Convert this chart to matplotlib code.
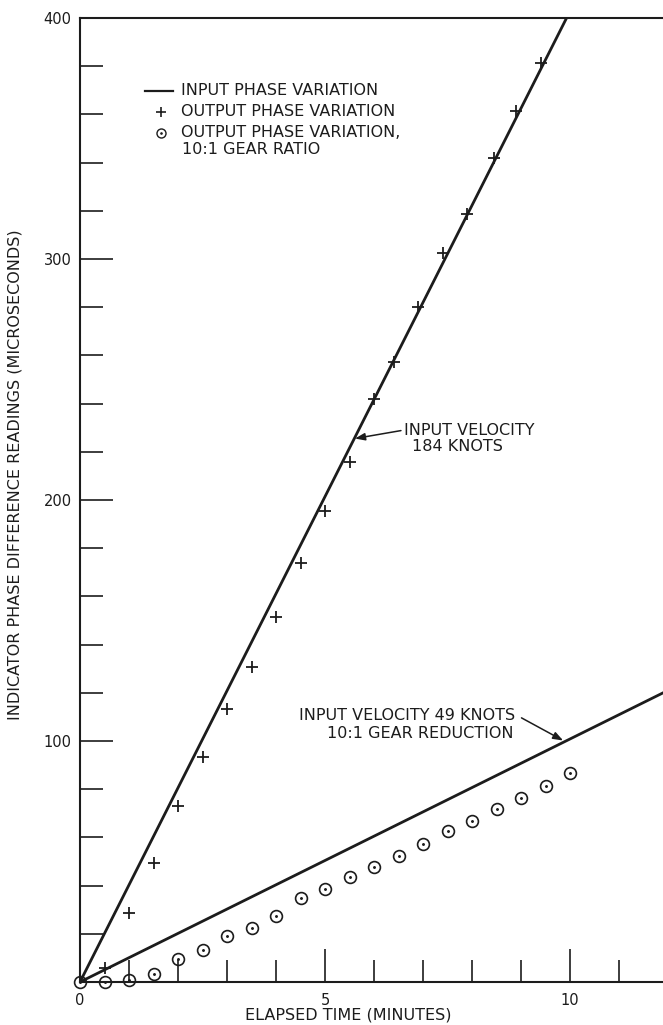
import numpy as np
import matplotlib
matplotlib.use("Agg")
import matplotlib.pyplot as plt

plt.rcParams['font.family'] = ['DejaVu Sans']

INK = '#1c1c1c'

# ---- data ----
# input phase variation lines (straight lines through origin)
fast_line_x = [0.0, 9.93]
fast_line_y = [0.0, 400.0]
slow_line_x = [0.0, 12.0]
slow_line_y = [0.0, 121.0]

# output phase variation (+)
plus_x = [0.5, 1.0, 1.5, 2.0, 2.5, 3.0, 3.5, 4.0, 4.5, 5.0, 5.5, 6.0,
          6.4, 6.9, 7.4, 7.9, 8.45, 8.9, 9.4]
plus_y = [5.8, 28.5, 49.3, 73.0, 93.5, 113.2, 130.7, 151.5, 173.9, 195.6,
          215.9, 241.8, 257.4, 280.0, 302.4, 318.5, 341.8, 361.5, 381.2]

# output phase variation, 10:1 gear ratio (circles)
circ_x = [0.0, 0.5, 1.0, 1.5, 2.0, 2.5, 3.0, 3.5, 4.0, 4.5, 5.0, 5.5, 6.0,
          6.5, 7.0, 7.5, 8.0, 8.5, 9.0, 9.5, 10.0]
circ_y = [0.0, 0.0, 0.8, 3.2, 9.5, 13.3, 19.1, 22.2, 27.5, 34.7, 38.6, 43.7,
          47.6, 52.4, 57.3, 62.8, 66.9, 71.7, 76.5, 81.3, 86.9]

x_major = [0, 5, 10]
x_major_labels = ['0', '5', '10']
x_minor = [1, 2, 3, 4, 6, 7, 8, 9, 11]
y_major = [100, 200, 300, 400]
y_major_labels = ['100', '200', '300', '400']
y_minor = [20, 40, 60, 80, 120, 140, 160, 180, 220, 240, 260, 280,
           320, 340, 360, 380]

legend_labels = ['INPUT PHASE VARIATION', 'OUTPUT PHASE VARIATION',
                 'OUTPUT PHASE VARIATION,', '10:1 GEAR RATIO']

# ---- figure ----
W, H = 663, 1025
fig = plt.figure(figsize=(W / 100, H / 100), dpi=100)
fig.patch.set_facecolor('white')
ax = fig.add_axes([80 / W, 43 / H, 583 / W, 964 / H])
ax.set_xlim(0, 583 / 49)
ax.set_ylim(0, 400)

for s in ['left', 'bottom', 'top']:
    ax.spines[s].set_linewidth(1.5)
    ax.spines[s].set_color(INK)
ax.spines['right'].set_visible(False)

ax.set_xticks(x_major)
ax.set_xticklabels(x_major_labels)
ax.set_xticks(x_minor, minor=True)
ax.set_yticks(y_major)
ax.set_yticklabels(y_major_labels)
ax.set_yticks(y_minor, minor=True)
ax.tick_params(axis='both', which='both', direction='in', color=INK,
               labelcolor=INK, width=1.2, right=False, top=False)
ax.tick_params(axis='x', which='major', length=24, labelsize=10.5, pad=8)
ax.tick_params(axis='x', which='minor', length=16)
ax.tick_params(axis='y', which='major', length=24, labelsize=10.5, pad=6)
ax.tick_params(axis='y', which='minor', length=16.5)

# lines
ax.plot(fast_line_x, fast_line_y, color=INK, lw=2.0, solid_capstyle='butt')
ax.plot(slow_line_x, slow_line_y, color=INK, lw=2.0, solid_capstyle='butt')

# markers
ax.plot(plus_x, plus_y, ls='none', marker='+', ms=9, mew=1.3, color=INK,
        clip_on=False)
ax.plot(circ_x, circ_y, ls='none', marker='o', ms=8.5, mew=1.2, mfc='none',
        mec=INK, clip_on=False, zorder=4)
ax.plot(circ_x, circ_y, ls='none', marker='.', ms=2.2, color=INK,
        clip_on=False, zorder=4)

# legend (manual)
fs = 11.5
ax.plot([1.33, 1.90], [369.8, 369.8], color=INK, lw=1.6)
ax.plot([1.65], [361.1], marker='+', ms=7, mew=1.2, color=INK)
ax.plot([1.65], [352.4], marker='o', ms=6.5, mew=1.0, mfc='none', mec=INK)
ax.plot([1.65], [352.4], marker='.', ms=1.8, color=INK)
ax.text(2.06, 369.8, legend_labels[0], fontsize=fs, color=INK, va='center')
ax.text(2.06, 361.1, legend_labels[1], fontsize=fs, color=INK, va='center')
ax.text(2.06, 352.4, legend_labels[2], fontsize=fs, color=INK, va='center')
ax.text(2.08, 345.5, legend_labels[3], fontsize=fs, color=INK, va='center')

# annotations
arrow = dict(arrowstyle='-|>,head_length=0.6,head_width=0.22', color=INK,
             lw=1.1, shrinkA=0, shrinkB=0)
ax.annotate('', xy=(5.61, 225.5), xytext=(6.55, 228.8), arrowprops=arrow)
ax.text(6.61, 229.0, 'INPUT VELOCITY', fontsize=fs, color=INK, va='center')
ax.text(6.77, 222.1, '184 KNOTS', fontsize=fs, color=INK, va='center')

ax.annotate('', xy=(9.86, 100.2), xytext=(9.01, 109.6), arrowprops=arrow)
ax.text(8.88, 110.4, 'INPUT VELOCITY 49 KNOTS', fontsize=fs, color=INK,
        va='center', ha='right')
ax.text(8.84, 103.2, '10:1 GEAR REDUCTION', fontsize=fs, color=INK,
        va='center', ha='right')

# axis titles
fig.text(15 / W, 1 - 475 / H,
         'INDICATOR PHASE DIFFERENCE READINGS (MICROSECONDS)',
         rotation=90, ha='center', va='center', fontsize=fs, color=INK)
fig.text(348 / W, 1 - 1015 / H, 'ELAPSED TIME (MINUTES)',
         ha='center', va='center', fontsize=fs, color=INK)

fig.savefig('out.png', dpi=100, facecolor='white')
